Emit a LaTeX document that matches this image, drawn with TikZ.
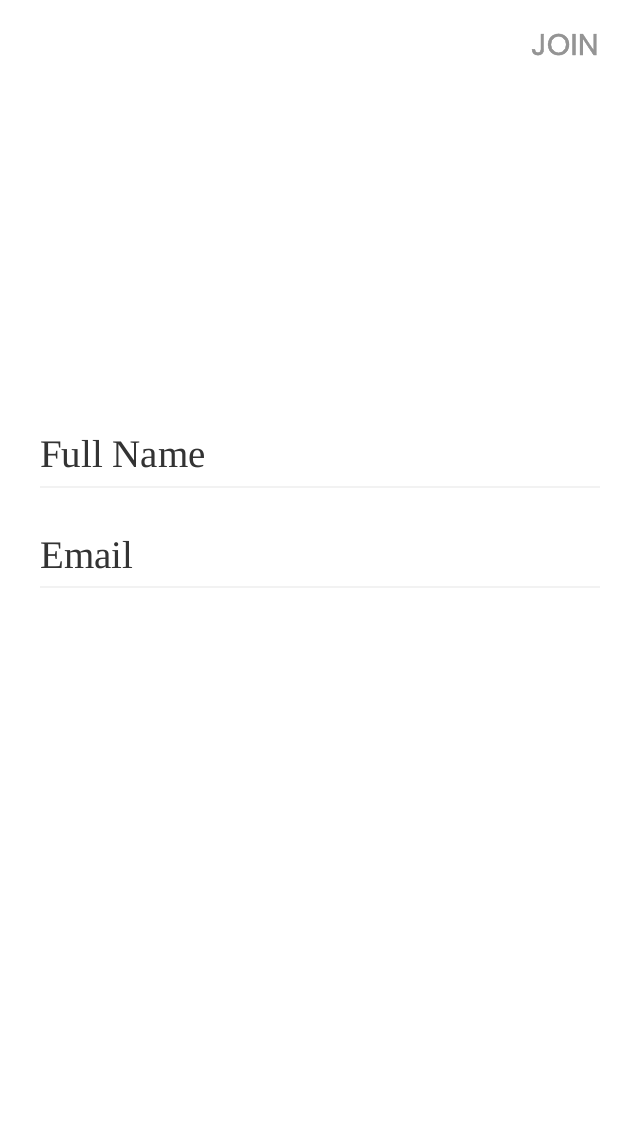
\documentclass[tikz,border=0pt]{standalone}
\usepackage{fontspec}
\setmainfont{Liberation Serif}
\newfontfamily\joinfont[FakeBold=1.2]{Poppins}
\usepackage{tikz}

\begin{document}
\begin{tikzpicture}[x=1pt,y=-1pt,
	field/.style={anchor=base west,inner sep=0pt,text=black!80,font=\fontsize{39}{39}\selectfont},
	rule/.style={draw=black!5,line width=1.5pt}]
\useasboundingbox[fill=white] (0,0) rectangle (640,1136);
\node [anchor=base east,inner sep=0pt,text=black!42,font=\joinfont\fontsize{30}{30}\selectfont] (join) at (599,55) {JOIN};
\node [field] (name) at (40,467) {Full Name};
\coordinate (n1) at (40,487);
\coordinate (n2) at (600,487);
\draw [rule] (n1) -- (n2);
\node [field] (email) at (40,568) {Email};
\coordinate (e1) at (40,587);
\coordinate (e2) at (600,587);
\draw [rule] (e1) -- (e2);
\end{tikzpicture}
\end{document}
